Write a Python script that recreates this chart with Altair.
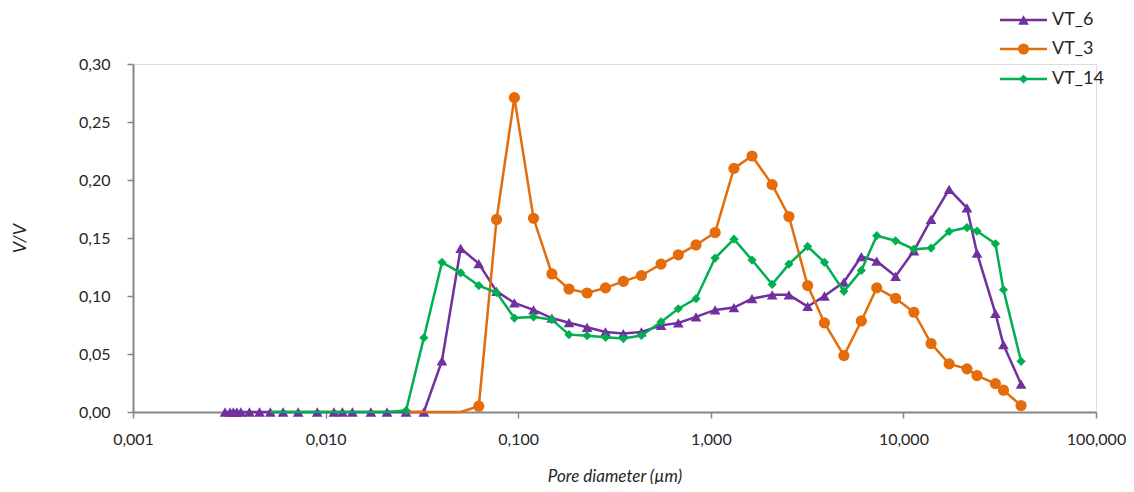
import altair as alt
import pandas as pd

# Pore diameters (µm), shared grid
diameter = [0.003005, 0.003190, 0.003319, 0.003458, 0.003629, 0.004024, 0.004538, 0.005162,
            0.006013, 0.007203, 0.009050, 0.01105, 0.01223, 0.01378, 0.01718, 0.02083,
            0.02617, 0.03237, 0.04019, 0.05028, 0.06242, 0.07719, 0.09555, 0.1201,
            0.1496, 0.1835, 0.2279, 0.2841, 0.3513, 0.4362, 0.5514, 0.6781, 0.8380,
            1.053, 1.319, 1.637, 2.083, 2.545, 3.184, 3.891, 4.909, 6.048, 7.271,
            9.106, 11.34, 13.92, 17.28, 21.38, 24.11, 30.05, 33.08, 40.83]

vt_6 = [0, 0, 0, 0, 0, 0, 0, 0, 0, 0, 0, 0, 0, 0, 0, 0, 0, 0,
        0.044, 0.141, 0.128, 0.104, 0.094, 0.088, 0.081, 0.077, 0.073, 0.069,
        0.0676, 0.069, 0.0747, 0.0768, 0.082, 0.088, 0.090, 0.0977, 0.101, 0.101,
        0.091, 0.100, 0.112, 0.134, 0.130, 0.117, 0.139, 0.166, 0.192, 0.176,
        0.137, 0.085, 0.058, 0.024]

vt_3 = [None] * 16 + [0, 0, 0, 0,
        0.005, 0.166, 0.271, 0.167, 0.119, 0.106, 0.1026, 0.107, 0.1126, 0.1177,
        0.1275, 0.1355, 0.144, 0.1547, 0.210, 0.2207, 0.196, 0.1685, 0.109, 0.0768,
        0.0486, 0.0785, 0.107, 0.098, 0.086, 0.059, 0.0415, 0.0372, 0.0314, 0.0245,
        0.0188, 0.0056]

vt_14 = [None] * 7 + [0, 0, 0, 0, 0, 0, 0, 0, 0,
         0.0013, 0.064, 0.129, 0.120, 0.109, 0.103, 0.081, 0.082, 0.0796, 0.0667,
         0.0658, 0.0644, 0.0633, 0.066, 0.0776, 0.089, 0.0977, 0.1327, 0.149, 0.131,
         0.110, 0.1275, 0.1427, 0.129, 0.104, 0.122, 0.152, 0.1476, 0.1404, 0.1413,
         0.1556, 0.159, 0.156, 0.145, 0.1054, 0.0437]

series_names = ["VT_6", "VT_3", "VT_14"]
series_values = [vt_6, vt_3, vt_14]
series_colors = ["#7030A0", "#E46C0A", "#00B050"]
series_shapes = ["triangle-up", "circle", "diamond"]
series_sizes = [115, 125, 85]
always_marker = [True, False, False]

rows = []
for name, vals in zip(series_names, series_values):
    for d, v in zip(diameter, vals):
        if v is not None:
            rows.append({"series": name, "d": d, "v": v})
df = pd.DataFrame(rows)

FONT = "Lato"
TEXT = "#262626"
AXIS = "#868686"

x_enc = alt.X("d:Q",
              scale=alt.Scale(type="log", domain=[0.001, 100], nice=False),
              axis=alt.Axis(values=[0.001, 0.01, 0.1, 1, 10, 100],
                            labelExpr="replace(format(datum.value, '.3f'), '.', ',')",
                            title="Pore diameter (µm)", titleFontStyle="italic",
                            titleFontWeight="normal", titleFontSize=17, titleFont=FONT,
                            titleColor=TEXT, titleY=64, titleBaseline="middle",
                            labelFont=FONT, labelFontSize=16, labelColor=TEXT,
                            labelPadding=13, grid=False, domainColor=AXIS, domainWidth=2,
                            tickColor=AXIS, tickWidth=1.5, tickSize=6, labelFlush=False))
y_enc = alt.Y("v:Q",
              scale=alt.Scale(domain=[0, 0.30], nice=False),
              axis=alt.Axis(values=[0, 0.05, 0.10, 0.15, 0.20, 0.25, 0.30],
                            labelExpr="replace(format(datum.value, '.2f'), '.', ',')",
                            title="V/V", titleFontStyle="italic", titleFontWeight="normal",
                            titleFontSize=18, titleFont=FONT, titleColor=TEXT,
                            titleX=-113, titleY=174, titleBaseline="middle",
                            labelFont=FONT, labelFontSize=16, labelColor=TEXT,
                            labelPadding=17, grid=False, domainColor=AXIS, domainWidth=2,
                            tickColor=AXIS, tickWidth=1.5, tickSize=6))

base = alt.Chart(df)
layers = []
for i, name in enumerate(series_names):
    sub = base.transform_filter(alt.datum.series == name)
    line = sub.mark_line(color=series_colors[i], strokeWidth=2.5).encode(x=x_enc, y=y_enc)
    pts_src = sub if always_marker[i] else sub.transform_filter(alt.datum.v > 0)
    pts = pts_src.mark_point(filled=True, opacity=1, color=series_colors[i],
                             shape=series_shapes[i], size=series_sizes[i]).encode(x=x_enc, y=y_enc)
    layers += [line, pts]

# manual legend (top right)
leg_y = [-44, -15, 15]
for i, name in enumerate(series_names):
    ldf = pd.DataFrame({"series": [name]})
    lb = alt.Chart(ldf)
    layers.append(lb.mark_rule(color=series_colors[i], strokeWidth=2.5).encode(
        x=alt.value(867), x2=alt.value(914), y=alt.value(leg_y[i])))
    layers.append(lb.mark_point(filled=True, opacity=1, color=series_colors[i],
                                shape=series_shapes[i], size=series_sizes[i]).encode(
        x=alt.value(890.5), y=alt.value(leg_y[i])))
    layers.append(lb.mark_text(align="left", baseline="middle", font=FONT, fontSize=18,
                               color=TEXT).encode(
        x=alt.value(919), y=alt.value(leg_y[i]), text="series:N"))

chart = alt.layer(*layers).properties(
    width=963, height=348,
    autosize=alt.AutoSizeParams(type="none"),
    padding={"left": 125, "top": 56, "right": 30, "bottom": 72},
).configure_view(stroke=None).configure(background="white")

chart.save("out.html", embed_options={"renderer": "svg", "actions": False})
